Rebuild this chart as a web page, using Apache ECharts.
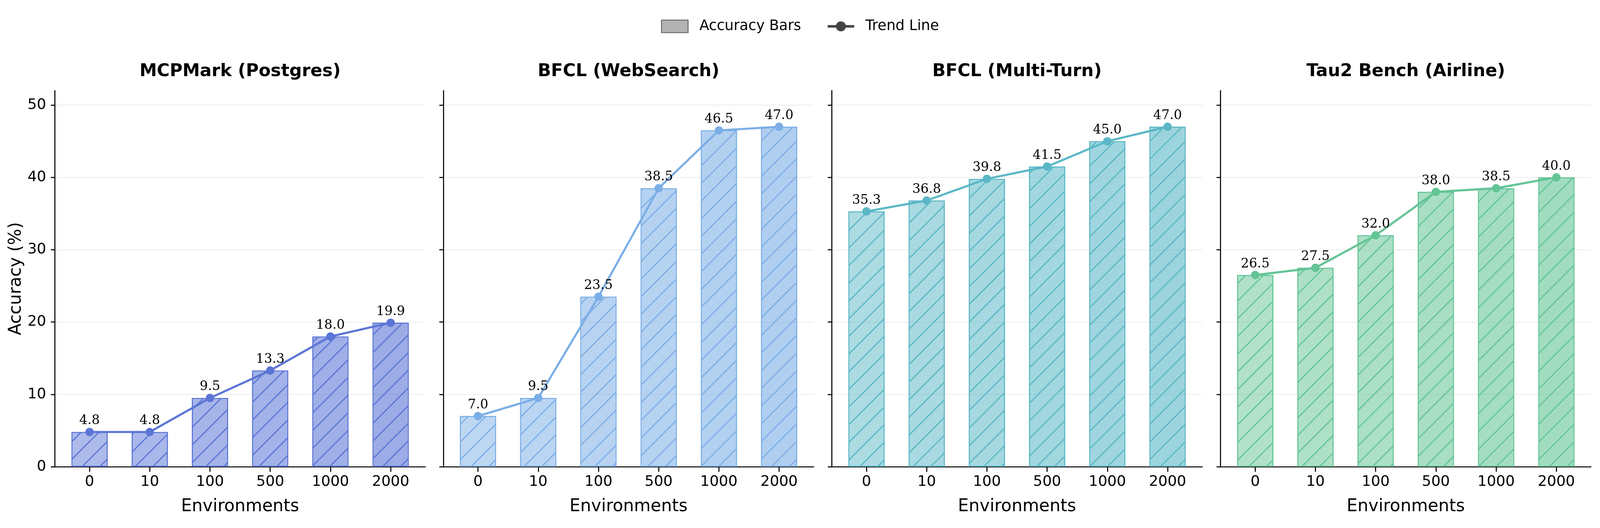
<!DOCTYPE html>
<html>
<head>
<meta charset="utf-8">
<title>Accuracy vs Environments</title>
<script src="https://cdn.jsdelivr.net/npm/echarts@6/dist/echarts.min.js"></script>
<style>
  html, body { margin: 0; padding: 0; background: #fff; overflow: hidden; }
</style>
</head>
<body>
<div id="main"></div>
<script type="text/javascript">
// data
var environments = ['0', '10', '100', '500', '1000', '2000'];
var panelTitles = ['MCPMark (Postgres)', 'BFCL (WebSearch)', 'BFCL (Multi-Turn)', 'Tau2 Bench (Airline)'];
var mcpmarkPostgres = [4.8, 4.8, 9.5, 13.3, 18.0, 19.9];
var bfclWebSearch = [7.0, 9.5, 23.5, 38.5, 46.5, 47.0];
var bfclMultiTurn = [35.3, 36.8, 39.8, 41.5, 45.0, 47.0];
var tau2Airline = [26.5, 27.5, 32.0, 38.0, 38.5, 40.0];
var yTicks = [0, 10, 20, 30, 40, 50];

var panelValues = [mcpmarkPostgres, bfclWebSearch, bfclMultiTurn, tau2Airline];
var panelColors = ['#5B75D6', '#7BAEE6', '#5AB7C6', '#63C496'];

// layout measured on a 5128 x 1352 figure, stretched to fill the window
var W = document.documentElement.clientWidth || window.innerWidth || 5128;
var H = document.documentElement.clientHeight || window.innerHeight || 1352;
var sx = W / 5128, sy = H / 1352, sf = Math.sqrt(sx * sy);

var main = document.getElementById('main');
main.style.width = W + 'px';
main.style.height = H + 'px';

var gridLefts = [176, 1421, 2666, 3912];
var gridWidth = 1187;
var gridTop = 232;
var gridBottom = 157;

var titleSize = 50 * sf, tickSize = 42 * sf, nameSize = 49 * sf, valueSize = 37 * sf, legendSize = 41 * sf;

function rgba(hex, a) {
    var r = parseInt(hex.slice(1, 3), 16);
    var g = parseInt(hex.slice(3, 5), 16);
    var b = parseInt(hex.slice(5, 7), 16);
    return 'rgba(' + r + ',' + g + ',' + b + ',' + a + ')';
}

var grids = [], xAxes = [], yAxes = [], titles = [], series = [];
var tickIdx = environments.map(function (e, i) { return i; });

for (var p = 0; p < 4; p++) {
    var col = panelColors[p];
    grids.push({ left: gridLefts[p] * sx, width: gridWidth * sx, top: gridTop * sy, bottom: gridBottom * sy, containLabel: false });
    titles.push({
        text: panelTitles[p],
        left: (gridLefts[p] + gridWidth / 2) * sx,
        top: 183 * sy - titleSize / 2,
        padding: 0,
        textAlign: 'center',
        textStyle: { fontFamily: 'DejaVu Sans', fontWeight: 'bold', fontSize: titleSize, color: '#000' }
    });
    xAxes.push({
        type: 'value',
        gridIndex: p,
        min: -0.575,
        max: 5.575,
        name: 'Environments',
        nameLocation: 'middle',
        nameGap: 103 * sy - nameSize / 2,
        nameTextStyle: { fontFamily: 'DejaVu Sans', fontSize: nameSize, color: '#000' },
        axisLine: { show: true, onZero: false, lineStyle: { color: '#000', width: 3 * sf } },
        axisTick: { show: true, length: 13 * sy, lineStyle: { color: '#000', width: 3 * sf }, customValues: tickIdx },
        axisLabel: {
            customValues: tickIdx,
            margin: 39 * sy - tickSize / 2,
            fontFamily: 'DejaVu Sans', fontSize: tickSize, color: '#000',
            formatter: function (v) { return environments[Math.round(v)]; }
        },
        splitLine: { show: false }
    });
    yAxes.push({
        type: 'value',
        gridIndex: p,
        min: 0,
        max: 52,
        name: p === 0 ? 'Accuracy (%)' : '',
        nameLocation: 'middle',
        nameGap: 124 * sx - nameSize / 2,
        nameTextStyle: { fontFamily: 'DejaVu Sans', fontSize: nameSize, color: '#000' },
        axisLine: { show: true, onZero: false, lineStyle: { color: '#000', width: 3 * sf } },
        axisTick: { show: true, length: 13 * sx, lineStyle: { color: '#000', width: 3 * sf }, customValues: yTicks },
        axisLabel: {
            show: p === 0,
            customValues: yTicks,
            margin: 28 * sx,
            fontFamily: 'DejaVu Sans', fontSize: tickSize, color: '#000'
        },
        splitLine: { show: true, lineStyle: { color: '#ececec', width: 2.5 * sf } }
    });

    var vals = panelValues[p];
    series.push({
        name: panelTitles[p] + ' bars',
        type: 'bar',
        xAxisIndex: p,
        yAxisIndex: p,
        barWidth: '60%',
        itemStyle: {
            borderColor: col,
            borderWidth: 2.5 * sf,
            decal: {
                symbol: 'rect',
                symbolSize: 1,
                color: col,
                dashArrayX: [1, 0],
                dashArrayY: [3 * sf, 32 * sf],
                rotation: -Math.PI / 4
            }
        },
        data: vals.map(function (v, i) {
            return { value: [i, v], itemStyle: { color: rgba(col, 0.5 + 0.02 * i) } };
        }),
        z: 2
    });
    series.push({
        name: panelTitles[p] + ' trend',
        type: 'line',
        xAxisIndex: p,
        yAxisIndex: p,
        symbol: 'circle',
        symbolSize: 24 * sf,
        itemStyle: { color: col },
        lineStyle: { color: col, width: 6 * sf },
        label: {
            show: true,
            position: 'top',
            distance: 1,
            fontFamily: 'DejaVu Serif',
            fontSize: valueSize,
            color: '#000',
            formatter: function (prm) { return prm.value[1].toFixed(1); }
        },
        data: vals.map(function (v, i) { return [i, v]; }),
        z: 3
    });
}

// hidden grid holding the legend-only series
grids.push({ left: 0, top: 0, width: 1, height: 1, show: false });
xAxes.push({ type: 'value', gridIndex: 4, show: false });
yAxes.push({ type: 'value', gridIndex: 4, show: false });
series.push({
    name: 'Accuracy Bars', type: 'bar', xAxisIndex: 4, yAxisIndex: 4,
    itemStyle: { color: '#b3b3b3', borderColor: '#6e6e6e', borderWidth: 3 * sf },
    data: []
});
series.push({
    name: 'Trend Line', type: 'line', xAxisIndex: 4, yAxisIndex: 4,
    symbol: 'circle',
    itemStyle: { color: '#444' },
    lineStyle: { color: '#444', width: 7 * sf },
    data: []
});

var myChart = echarts.init(main, null, { renderer: 'canvas' });
var option = {
    animation: false,
    backgroundColor: '#fff',
    textStyle: { fontFamily: 'DejaVu Sans' },
    title: titles,
    legend: {
        top: 65 * sy - 16 * sy,
        left: 'center',
        padding: 0,
        itemWidth: 85 * sx,
        itemHeight: 32 * sy,
        itemGap: 81 * sx,
        textStyle: { fontFamily: 'DejaVu Sans', fontSize: legendSize, color: '#000', padding: [0, 0, 0, 30 * sx] },
        data: [
            { name: 'Accuracy Bars', icon: 'rect', itemStyle: { color: '#b3b3b3', borderColor: '#6e6e6e', borderWidth: 3 * sf } },
            { name: 'Trend Line', itemStyle: { color: '#444' }, lineStyle: { color: '#444', width: 7 * sf } }
        ]
    },
    grid: grids,
    xAxis: xAxes,
    yAxis: yAxes,
    series: series
};
myChart.setOption(option);
</script>
</body>
</html>
